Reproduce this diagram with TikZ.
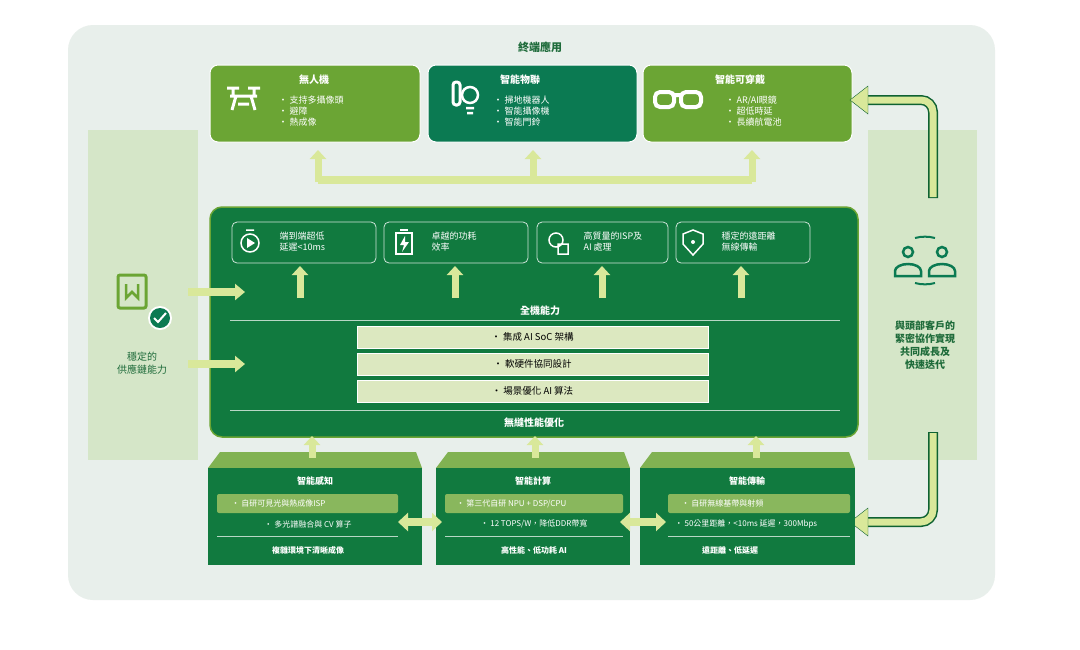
\documentclass[tikz,border=0pt]{standalone}
\usepackage{fontspec}
\setmainfont{Noto Sans CJK TC}
\usetikzlibrary{arrows.meta}
\definecolor{bg}{HTML}{E8EFEB}
\definecolor{lg}{HTML}{6BA534}
\definecolor{dg}{HTML}{0B7A52}
\definecolor{mg}{HTML}{117A3F}
\definecolor{pale}{HTML}{DCE8C0}
\definecolor{side}{HTML}{D5E6C8}
\definecolor{arr}{HTML}{D9E89A}
\definecolor{txt}{HTML}{1E6B3A}
\tikzset{
 tbox/.style={rounded corners=8pt,draw=white,line width=1pt},
 feat/.style={rounded corners=5pt,draw=white!80!mg,fill=mg,line width=0.8pt},
 upar/.style={-{Triangle[width=16pt,length=9pt]},line width=7pt,draw=arr},
 bar/.style={fill=pale,draw=white},
 wt/.style={text=white,font=\fontsize{9}{11}\selectfont,align=left,anchor=west},
 bt/.style={text=white,font=\bfseries\fontsize{10}{12}\selectfont},
 ht/.style={fill=lg!80!white,rounded corners=2pt},
}
\begin{document}
\begin{tikzpicture}[x=1pt,y=-1pt]
\useasboundingbox (0,0) rectangle (1080,649);
\fill[white] (0,0) rectangle (1080,649);
\fill[bg,rounded corners=25pt] (68,25) rectangle (995,600);
\node[font=\bfseries\fontsize{11}{13}\selectfont,text=txt] (title) at (540,47) {終端應用};
% side panels
\fill[side] (88,130) rectangle (198,460);
\fill[side] (868,130) rectangle (977,460);
% top boxes
\node[tbox,fill=lg,minimum width=210pt,minimum height=77pt] (t1) at (315,103.5) {};
\node[tbox,fill=dg,minimum width=209pt,minimum height=77pt] (t2) at (532.5,103.5) {};
\node[tbox,fill=lg,minimum width=209pt,minimum height=77pt] (t3) at (747.5,103.5) {};
\node[bt] at (314,80) {無人機};
\node[wt] at (275,111) {• 支持多攝像頭\\• 避障\\• 熱成像};
\node[bt] at (520,80) {智能物聯};
\node[wt] at (490,111) {• 掃地機器人\\• 智能攝像機\\• 智能門鈴};
\node[bt] at (740,80) {智能可穿戴};
\node[wt] at (722,111) {• AR/AI眼鏡\\• 超低時延\\• 長續航電池};
% icons
\draw[white,line width=3pt] (227,88)--(239,88) (233,88)--(233,96) (248,88)--(260,88) (254,88)--(254,96)
  (230,96)--(257,96) (236,96)--(232,110) (251,96)--(255,110) (238,104)--(249,104);
\draw[white,line width=3pt,rounded corners=3pt] (453,82) rectangle (460,105);
\draw[white,line width=2.5pt] (470,95) circle (8pt) (466,108)--(474,108) (467,113)--(473,113);
\draw[white,line width=4pt,rounded corners=5pt] (655,92) rectangle (674,107) (681,92) rectangle (701,107) (674,95)--(681,95);
% up arrows to top
\draw[arr,line width=8pt] (318,180)--(752,180);
\draw[upar] (318,182)--(318,150);
\draw[upar] (533,182)--(533,150);
\draw[upar] (752,182)--(752,150);
% main box
\node[rounded corners=12pt,fill=mg,draw=lg,line width=1.5pt,minimum width=648pt,minimum height=230pt] (main) at (534,322) {};
\node[feat,minimum width=144pt,minimum height=41pt] (f1) at (304,242.5) {};
\node[feat,minimum width=144pt,minimum height=41pt] (f2) at (456,242.5) {};
\node[feat,minimum width=131pt,minimum height=41pt] (f3) at (602.5,242.5) {};
\node[feat,minimum width=134pt,minimum height=41pt] (f4) at (743,242.5) {};
\node[wt] at (276,242) {端到端超低\\延遲<10ms};
\node[wt] at (428,242) {卓越的功耗\\效率};
\node[wt] at (580,242) {高質量的ISP及\\AI 處理};
\node[wt] at (718,242) {穩定的遠距離\\無線傳輸};
\draw[white,line width=1.5pt] (250,243) circle (9pt) (246,230)--(254,230);
\fill[white] (247,238)--(255,243)--(247,248)--cycle;
\draw[white,line width=1.5pt] (396,233) rectangle (412,254) (400,230)--(408,230);
\fill[white] (405,236)--(400,245)--(404,245)--(402,252)--(409,242)--(405,242)--cycle;
\draw[white,line width=1.5pt] (556,240) circle (7pt) (558,244) rectangle (568,254);
\draw[white,line width=1.5pt] (683,234)--(693,230)--(703,234)--(703,244)--(693,255)--(683,244)--cycle;
\fill[white] (693,242) circle (2pt);
\foreach \x in {300,455,602,741} \draw[upar] (\x,298)--(\x,266);
\node[bt] (all) at (540,311) {全機能力};
\draw[white!70!mg,line width=0.8pt] (230,320)--(840,320);
\node[bar,minimum width=351pt,minimum height=22pt] (b1) at (532.5,337) {};
\node[bar,minimum width=351pt,minimum height=22pt] (b2) at (532.5,364) {};
\node[bar,minimum width=351pt,minimum height=22pt] (b3) at (532.5,391) {};
\node[font=\fontsize{9.5}{11}\selectfont,text=black] at (b1) {• 集成 AI SoC 架構};
\node[font=\fontsize{9.5}{11}\selectfont,text=black] at (b2) {• 軟硬件協同設計};
\node[font=\fontsize{9.5}{11}\selectfont,text=black] at (b3) {• 場景優化 AI 算法};
\draw[white!70!mg,line width=0.8pt] (230,410)--(840,410);
\node[bt] (seam) at (534,423) {無縫性能優化};
% left panel
\draw[lg,line width=3pt,rounded corners=2pt] (118,275) rectangle (146,308);
\draw[lg,line width=2.5pt] (126,284)--(126,298)--(132,292)--(138,298)--(138,284);
\fill[white] (160,318) circle (12pt); \fill[dg] (160,318) circle (10pt);
\draw[white,line width=2pt] (154,318)--(158,322)--(166,313);
\node[text=txt,font=\fontsize{10}{13}\selectfont,align=center] (lt) at (142,363) {穩定的\\供應鏈能力};
\draw[-{Triangle[width=16pt,length=10pt]},line width=8pt,draw=arr] (188,292)--(245,292);
\draw[-{Triangle[width=16pt,length=10pt]},line width=8pt,draw=arr] (188,364)--(245,364);
% right panel
\draw[dg,line width=2.5pt] (908,252) circle (5pt) (942,252) circle (5pt);
\draw[dg,line width=2.5pt] (895,276)--(895,271) arc (180:0:13pt and 7pt)--(921,276)--cycle;
\draw[dg,line width=2.5pt] (929,276)--(929,271) arc (180:0:13pt and 7pt)--(955,276)--cycle;
\draw[dg,line width=2pt] (915,238) arc (120:60:20pt and 10pt);
\draw[dg,line width=2pt] (915,283) arc (-120:-60:20pt and 10pt);
\node[text=txt,font=\bfseries\fontsize{10}{13}\selectfont,align=center] (rt) at (925,345) {與頭部客戶的\\緊密協作實現\\共同成長及\\快速迭代};
\coordinate (ra) at (933,198); \coordinate (rb) at (933,432);
\draw[line width=10pt,draw=mg!80!black,rounded corners=12pt] (ra)--(933,100)--(866,100);
\draw[line width=7pt,draw=arr,rounded corners=12pt] (933,197)--(933,100)--(866,100);
\fill[arr,draw=mg!80!black] (850,100)--(868,86)--(868,114)--cycle;
\draw[line width=10pt,draw=mg!80!black,rounded corners=12pt] (rb)--(933,522)--(866,522);
\draw[line width=7pt,draw=arr,rounded corners=12pt] (933,433)--(933,522)--(866,522);
\fill[arr,draw=mg!80!black] (850,522)--(868,508)--(868,536)--cycle;
% bottom blocks
\foreach \a/\b/\n in {208/422/k1,436/630/k2,640/855/k3}{
 \fill[lg!85!white] (\a,468)--(\a+12,452)--(\b-6,452)--(\b,468)--cycle;
 \fill[mg] (\a,468) rectangle (\b,565);
}
\node[bt,font=\bfseries\fontsize{9}{11}\selectfont] at (315,481) {智能感知};
\node[bt,font=\bfseries\fontsize{9}{11}\selectfont] at (533,481) {智能計算};
\node[bt,font=\bfseries\fontsize{9}{11}\selectfont] at (747,481) {智能傳輸};
\fill[ht] (217,494) rectangle (398,513); \fill[ht] (445,494) rectangle (623,513); \fill[ht] (668,494) rectangle (850,513);
\node[wt,font=\fontsize{8}{10}\selectfont] at (228,503.5) {• 自研可見光與熱成像ISP};
\node[wt,font=\fontsize{8}{10}\selectfont] at (453,503.5) {• 第三代自研 NPU + DSP/CPU};
\node[wt,font=\fontsize{8}{10}\selectfont] at (678,503.5) {• 自研無線基帶與射頻};
\node[text=white,font=\fontsize{8}{10}\selectfont] at (308,524) {• 多光譜融合與 CV 算子};
\node[text=white,font=\fontsize{8}{10}\selectfont] at (534,524) {• 12 TOPS/W，降低DDR帶寬};
\node[text=white,font=\fontsize{8}{10}\selectfont] at (746,524) {• 50公里距離，<10ms 延遲，300Mbps};
\foreach \a/\b in {217/398,445/623,668/850} \draw[white!70!mg] (\a,536)--(\b,536);
\node[text=white,font=\bfseries\fontsize{8}{10}\selectfont] at (308,550) {複雜環境下清晰成像};
\node[text=white,font=\bfseries\fontsize{8}{10}\selectfont] at (534,550) {高性能、低功耗 AI};
\node[text=white,font=\bfseries\fontsize{8}{10}\selectfont] at (730,550) {遠距離、低延遲};
\foreach \x in {312,535,756} \draw[upar] (\x,458)--(\x,436);
\draw[{Triangle[width=18pt,length=10pt]}-{Triangle[width=18pt,length=10pt]},line width=8pt,draw=arr] (398,522)--(442,522);
\draw[{Triangle[width=18pt,length=10pt]}-{Triangle[width=18pt,length=10pt]},line width=8pt,draw=arr] (620,522)--(666,522);
\end{tikzpicture}
\end{document}
